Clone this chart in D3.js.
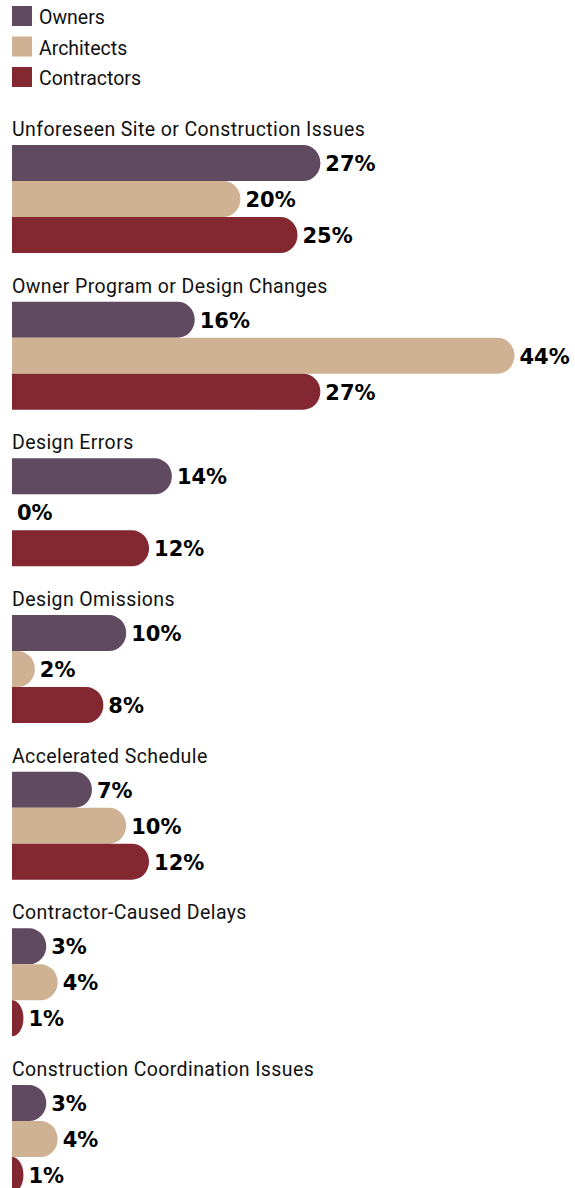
<!DOCTYPE html>
<html><head><meta charset="utf-8">
<script src="https://cdn.jsdelivr.net/npm/d3@7"></script>
<style>body{margin:0;background:#fff}svg{display:block}</style>
</head><body>
<svg id="c" width="575" height="1188"></svg>
<script>
const categories = ["Unforeseen Site or Construction Issues","Owner Program or Design Changes","Design Errors","Design Omissions","Accelerated Schedule","Contractor-Caused Delays","Construction Coordination Issues"];
const seriesNames = ["Owners","Architects","Contractors"];
const owners = [27,16,14,10,7,3,3];
const architects = [20,44,0,2,10,4,4];
const contractors = [25,27,12,8,12,1,1];
const colors = ["#604a60","#cfb294","#832731"];

const values = [owners, architects, contractors];
const svg = d3.select("#c");
const titleFont = "Roboto,'Liberation Sans',sans-serif";

const x = d3.scaleLinear().domain([0,44]).range([12,514.5]);
const y0 = d3.scaleBand().domain(categories).range([96.3, 96.3 + 7*156.67]).padding(0);
const y1 = d3.scaleBand().domain(seriesNames).range([48.7, 48.7+108]).padding(0);
const color = d3.scaleOrdinal().domain(seriesNames).range(colors);

// legend
const leg = svg.append("g");
seriesNames.forEach((s,i)=>{
  const g = leg.append("g").attr("transform",`translate(12,${6+i*30.5})`);
  g.append("rect").attr("width",20).attr("height",20).attr("fill",color(s));
  g.append("text").attr("x",27).attr("y",18).attr("font-family",titleFont).attr("font-size",19.5).attr("fill","#111").text(s);
});

function barPath(w,h){
  const r = h/2;
  const rx = Math.min(w, r*0.95);
  if (w<=0) return "";
  return `M0,0 H${w-rx} A${rx},${r} 0 0 1 ${w},${r} A${rx},${r} 0 0 1 ${w-rx},${h} H0 Z`;
}

const groups = svg.selectAll("g.grp").data(categories).join("g").attr("class","grp")
  .attr("transform",d=>`translate(0,${y0(d)})`);
groups.append("text").attr("x",12).attr("y",y1.range()[0]-9)
  .attr("font-family",titleFont).attr("font-size",19.5).attr("letter-spacing",0.4).attr("fill","#111").text(d=>d);

groups.each(function(cat,ci){
  const g = d3.select(this);
  seriesNames.forEach((s,si)=>{
    const v = values[si][ci];
    const w = x(v)-x(0);
    const yy = y1(s);
    const h = y1.bandwidth();
    g.append("path").attr("transform",`translate(${x(0)},${yy})`).attr("d",barPath(w,h)).attr("fill",color(s));
    g.append("text").attr("x",x(v)+5).attr("y",yy+h/2+8)
      .attr("font-family","'DejaVu Sans',sans-serif").attr("font-weight","bold").attr("font-size",21)
      .attr("fill","#000").text(v+"%");
  });
});
</script>
</body></html>
